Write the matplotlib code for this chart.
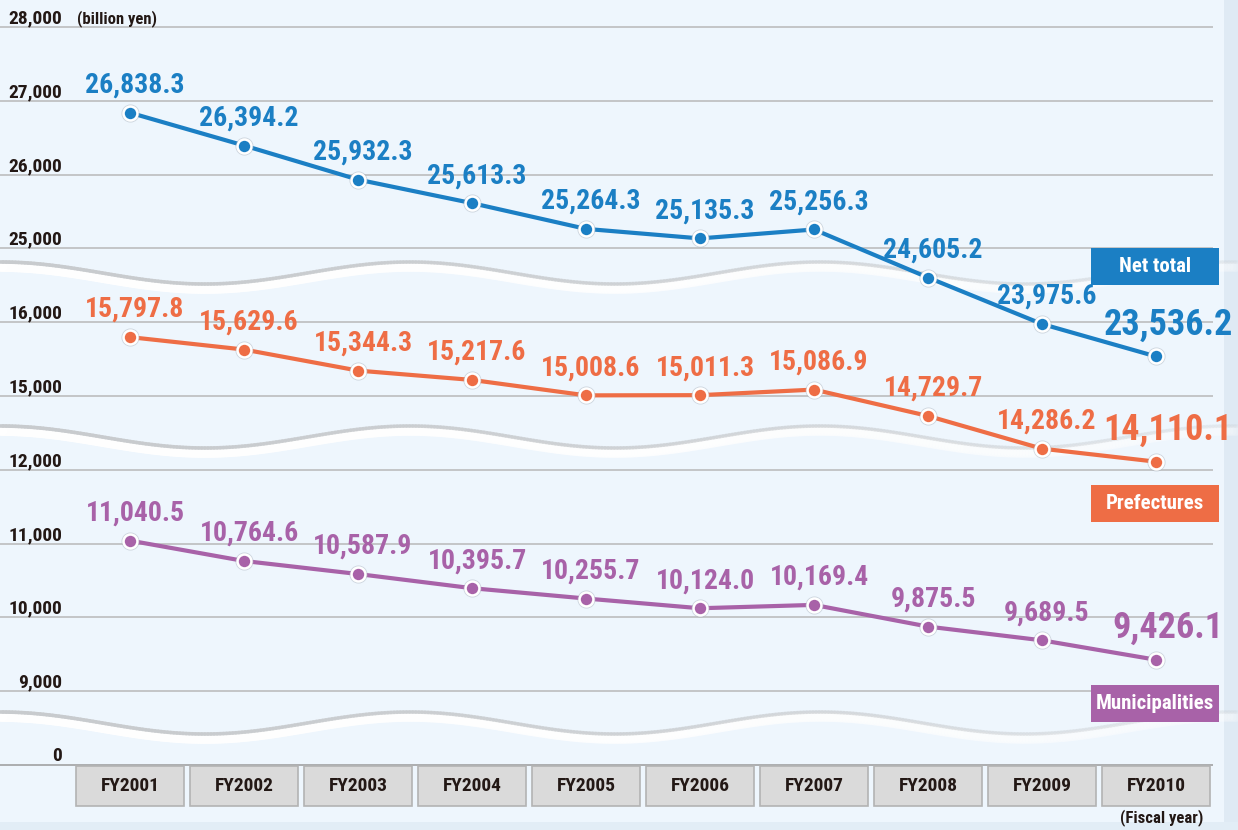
import matplotlib
matplotlib.use("Agg")
import matplotlib.pyplot as plt
import numpy as np
from matplotlib.collections import LineCollection
from matplotlib.patches import Rectangle

# data (billion yen)
years = ["FY2001", "FY2002", "FY2003", "FY2004", "FY2005",
         "FY2006", "FY2007", "FY2008", "FY2009", "FY2010"]
net_total = [26838.3, 26394.2, 25932.3, 25613.3, 25264.3,
             25135.3, 25256.3, 24605.2, 23975.6, 23536.2]
prefectures = [15797.8, 15629.6, 15344.3, 15217.6, 15008.6,
               15011.3, 15086.9, 14729.7, 14286.2, 14110.1]
municipalities = [11040.5, 10764.6, 10587.9, 10395.7, 10255.7,
                  10124.0, 10169.4, 9875.5, 9689.5, 9426.1]

# broken axis: evenly spaced ticks, each series hangs off its own anchor tick
tick_values = [0, 9000, 10000, 11000, 12000, 15000, 16000, 25000, 26000, 27000, 28000]
series = [
    ("Net total", net_total, 25000, "#1b7fc4"),
    ("Prefectures", prefectures, 15000, "#ee6d45"),
    ("Municipalities", municipalities, 10000, "#a862a8"),
]

FONT = ["Roboto Condensed", "DejaVu Sans"]
TXT = dict(family=FONT, fontweight="bold", fontstretch="condensed")
W, H = 1238, 830
BG = "#eef6fd"


def to_axis(vals, anchor):
    pos = tick_values.index(anchor)
    return [pos + (v - anchor) / 1000.0 for v in vals]


def fx(px):
    return px / W


def fy(py):
    return 1 - py / H


fig = plt.figure(figsize=(W / 100, H / 100), dpi=100, facecolor=BG)
ax = fig.add_axes([0, 0, 1, 1])
ax.set_facecolor(BG)
ax.set_xlim(-130 / 114, (W - 130) / 114)
ax.set_ylim(-(H - 765) / 73.8, 765 / 73.8)
ax.axis("off")

x = np.arange(len(years))

# frame shading right / bottom
ax.add_patch(Rectangle((fx(1224), 0), fx(W) - fx(1224), 1, transform=ax.transAxes,
                       facecolor="#dfeaf4", edgecolor="none", zorder=0))
ax.add_patch(Rectangle((0, 0), 1, fy(822), transform=ax.transAxes,
                       facecolor="#e2edf6", edgecolor="none", zorder=0))

# gridlines + tick labels
for k, tv in enumerate(tick_values):
    ax.plot([-130 / 114, 9.5], [k, k], color="#b8b8b8" if k else "#9a9a9a",
            lw=1.1, zorder=1, solid_capstyle="butt")
    ax.text((62 - 130) / 114, k + 0.05, f"{tv:,}", ha="right", va="baseline",
            fontsize=14, color="#231815", zorder=3, **TXT)

ax.text(fx(77), fy(23), "(billion yen)", transform=ax.transAxes, ha="left",
        va="baseline", fontsize=12, color="#231815", **TXT)


# wavy break bands
def wave(center_py):
    xs = np.linspace(0, W, 400)
    ys = center_py - 11 * np.cos(2 * np.pi * xs / 410)
    alpha = np.linspace(1.0, 0.15, len(xs) - 1)
    for off, col, lw in [(5, "white", 7), (0, "#c8cbce", 2.6)]:
        pts = np.column_stack([fx(xs), fy(ys + off)]).reshape(-1, 1, 2)
        segs = np.concatenate([pts[:-1], pts[1:]], axis=1)
        cols = [matplotlib.colors.to_rgba(col, a) for a in alpha]
        lc = LineCollection(segs, colors=cols, linewidths=lw, transform=ax.transAxes,
                            zorder=2, capstyle="round")
        ax.add_collection(lc)


for cpy in (273, 437, 723):
    wave(cpy)

# category boxes
for i, lab in enumerate(years):
    ax.add_patch(Rectangle((i - 0.474, -0.555), 0.948, 0.54, facecolor="#dadada",
                           edgecolor="#b3b3b3", lw=1.2, zorder=3))
    ax.text(i, -0.29, lab, ha="center", va="center", fontsize=14,
            color="#231815", zorder=4, **TXT)

ax.text(fx(1203), fy(818), "(Fiscal year)", transform=ax.transAxes, ha="right",
        va="center", fontsize=12, color="#231815", **TXT)

# lines, markers, labels
legend_py = {"Net total": 248, "Prefectures": 485, "Municipalities": 685}
for name, vals, anchor, col in series:
    ys = to_axis(vals, anchor)
    ax.plot(x, ys, color=col, lw=3, zorder=5, solid_capstyle="round")
    ax.plot(x, ys, "o", ms=13, color="#aab4be", alpha=0.5, mec="none", zorder=6)
    ax.plot(x, ys, "o", ms=10, color=col, mec="white", mew=1.8, zorder=7)
    for i, (xi, yi, v) in enumerate(zip(x, ys, vals)):
        last = i == len(vals) - 1
        ax.annotate(f"{v:,.1f}", (xi, yi), xytext=(12 if last else 5, 22 if last else 20),
                    textcoords="offset pixels", ha="center", va="baseline",
                    fontsize=26 if last else 20, color=col, zorder=8, **TXT)
    top = legend_py[name]
    ax.add_patch(Rectangle((fx(1091), fy(top + 37)), fx(128), 37 / H,
                           transform=ax.transAxes, facecolor=col, edgecolor="none", zorder=9))
    ax.text(fx(1155), fy(top + 18.5), name, transform=ax.transAxes, ha="center",
            va="center", fontsize=15, color="white", zorder=10, **TXT)

fig.savefig("out.png", dpi=100, facecolor=BG)
